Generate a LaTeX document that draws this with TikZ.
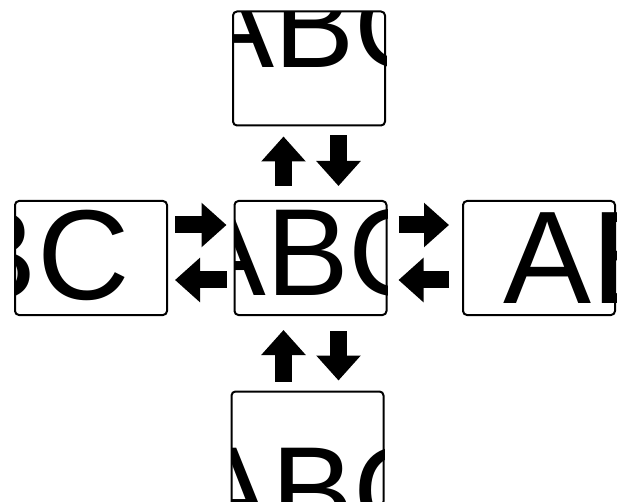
\documentclass[tikz,border=0pt]{standalone}
\usepackage{fontspec}
\setmainfont{Liberation Sans}
\usetikzlibrary{arrows.meta}

\begin{document}
\begin{tikzpicture}[x=1pt, y=-1pt,
	panel/.style={draw, line width=2pt, rounded corners=4pt, minimum width=152pt, minimum height=114pt, inner sep=0pt},
	letters/.style={inner sep=0pt, anchor=base west, font=\fontsize{#1}{#1}\selectfont},
	bigarrow/.style={line width=17pt, -{Triangle[width=43pt, length=25pt]}}]
	\clip (0,0) rectangle (623,502);
	% the five panels
	\node[panel] (topbox) at (309,68.5) {};
	\node[panel] (leftbox) at (91,258) {};
	\node[panel] (midbox) at (310.5,258) {};
	\node[panel] (rightbox) at (539,258) {};
	\node[panel] (botbox) at (307.5,448.5) {};
	% text, cut off by the panel borders
	\begin{scope}
		\clip[rounded corners=4pt] (topbox.south west) rectangle (topbox.north east);
		\node[letters=120] (toptext) at (194.5,68) {ABC};
	\end{scope}
	\begin{scope}
		\clip[rounded corners=4pt] (leftbox.south west) rectangle (leftbox.north east);
		\node[letters=128] (lefttext) at (-133.9,299) {ABC};
	\end{scope}
	\begin{scope}
		\clip[rounded corners=4pt] (midbox.south west) rectangle (midbox.north east);
		\node[letters=124] (midtext) at (183.2,295) {ABC};
	\end{scope}
	\begin{scope}
		\clip[rounded corners=4pt] (rightbox.south west) rectangle (rightbox.north east);
		\node[letters=132] (righttext) at (503.3,303) {ABC};
	\end{scope}
	\begin{scope}
		\clip[rounded corners=4pt] (botbox.south west) rectangle (botbox.north east);
		\node[letters=124] (bottext) at (188.2,533.8) {ABC};
	\end{scope}
	% arrows between the panels
	\draw[bigarrow, shorten <=7pt, shorten >=7pt] ([yshift=33pt]leftbox.east) -- ([yshift=33pt]midbox.west);
	\draw[bigarrow, shorten <=7pt, shorten >=7pt] ([yshift=-22pt]midbox.west) -- ([yshift=-22pt]leftbox.east);
	\draw[bigarrow, shorten <=11pt, shorten >=13pt] ([yshift=33pt]midbox.east) -- ([yshift=33pt]rightbox.west);
	\draw[bigarrow, shorten <=13pt, shorten >=11pt] ([yshift=-22pt]rightbox.west) -- ([yshift=-22pt]midbox.east);
	\draw[bigarrow, shorten <=14pt, shorten >=10pt] ([xshift=-27pt]midbox.north) -- ([xshift=-27pt]midbox.north |- topbox.south);
	\draw[bigarrow, shorten <=9pt, shorten >=14pt] ([xshift=28pt]midbox.north |- topbox.south) -- ([xshift=28pt]midbox.north);
	\draw[bigarrow, shorten <=9pt, shorten >=14pt] ([xshift=-27pt]midbox.south |- botbox.north) -- ([xshift=-27pt]midbox.south);
	\draw[bigarrow, shorten <=15pt, shorten >=10pt] ([xshift=28pt]midbox.south) -- ([xshift=28pt]midbox.south |- botbox.north);
\end{tikzpicture}
\end{document}
